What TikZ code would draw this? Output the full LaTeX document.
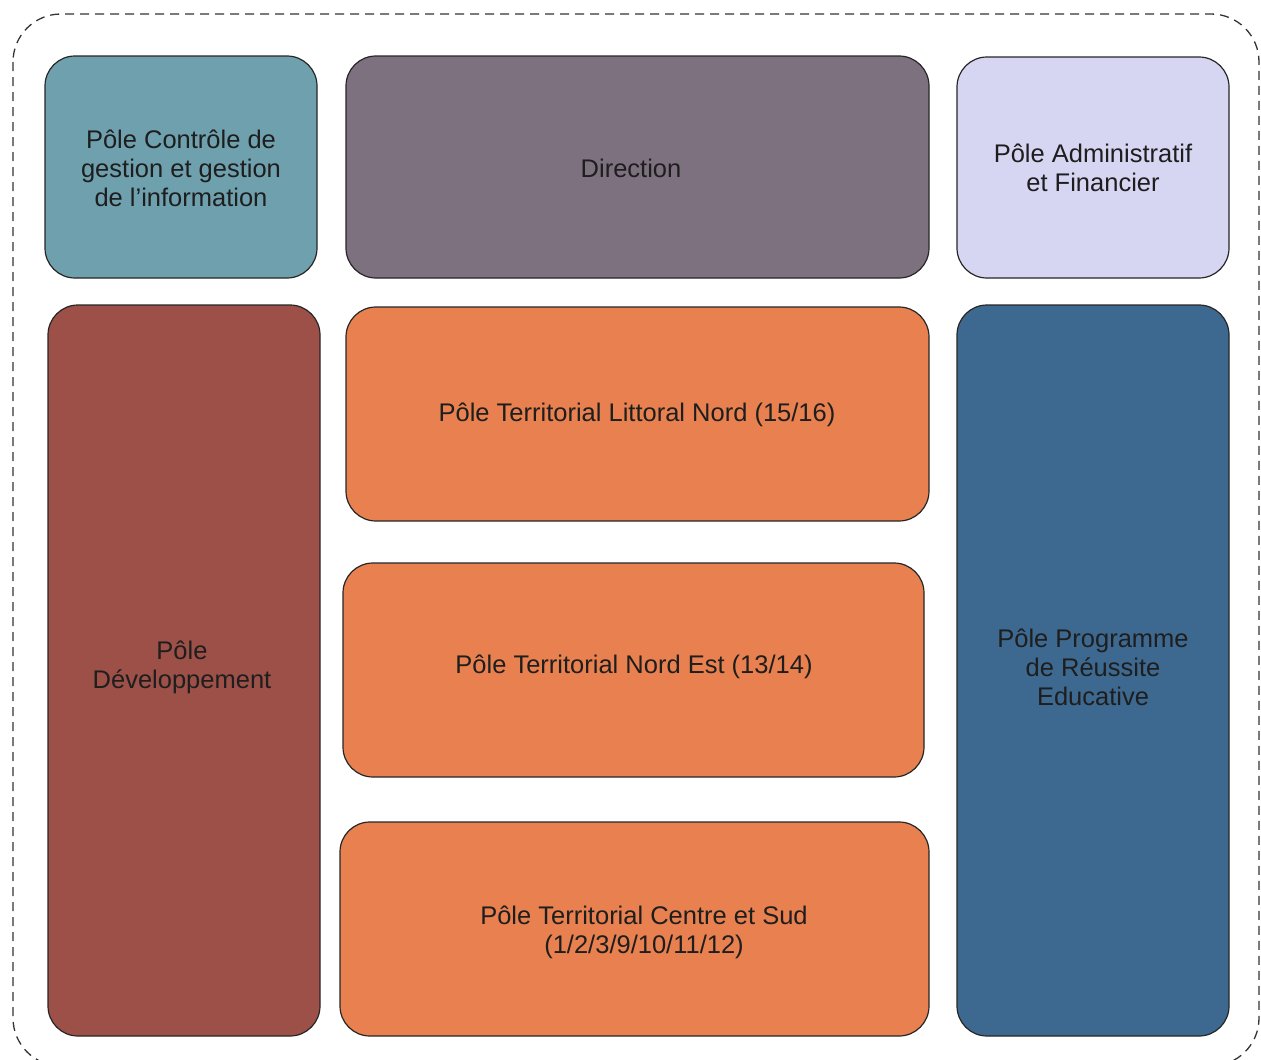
\documentclass[tikz,border=0pt]{standalone}
\usepackage{fontspec}
\setmainfont{Liberation Sans}
\definecolor{cctrl}{HTML}{6FA0AE}
\definecolor{cdir}{HTML}{7E717F}
\definecolor{cadm}{HTML}{D6D6F3}
\definecolor{cdev}{HTML}{9C5047}
\definecolor{cter}{HTML}{E8814F}
\definecolor{cprog}{HTML}{3D6990}
\definecolor{ctext}{HTML}{1E1E1E}
\begin{document}
\begin{tikzpicture}[x=1pt,y=-1pt,
  pole/.style={draw=black!85, line width=1.2pt, rounded corners=30pt},
  lbl/.style={font=\fontsize{25.5}{29}\selectfont, text=ctext, align=center}]
\useasboundingbox (0,0) rectangle (1261,1060);
\begin{scope}
\clip (0,0) rectangle (1261,1060);
\draw[line width=1.3pt, black!80, dash pattern=on 9pt off 6pt, rounded corners=48pt] (13,14) rectangle (1259,1066);
\end{scope}
% boxes
\draw[pole, fill=cctrl] (45,56) rectangle (317,278);
\node[lbl] (ctrl) at (181,168) {Pôle Contrôle de\\gestion et gestion\\de l’information};
\draw[pole, fill=cdir] (346,56) rectangle (929,278);
\node[lbl] (dir) at (631,168) {Direction};
\draw[pole, fill=cadm] (957,57) rectangle (1229,278);
\node[lbl] (adm) at (1093,168) {Pôle Administratif\\et Financier};
\draw[pole, fill=cdev] (48,305) rectangle (320,1036);
\node[lbl] (dev) at (182,667) {Pôle\\Développement};
\draw[pole, fill=cter] (346,307) rectangle (929,521);
\node[lbl] (lit) at (637,415) {Pôle Territorial Littoral Nord (15/16)};
\draw[pole, fill=cter] (343,563) rectangle (924,777);
\node[lbl] (ne) at (634,667) {Pôle Territorial Nord Est (13/14)};
\draw[pole, fill=cter] (340,822) rectangle (929,1036);
\node[lbl] (cs) at (644,932) {Pôle Territorial Centre et Sud\\(1/2/3/9/10/11/12)};
\draw[pole, fill=cprog] (957,305) rectangle (1229,1036);
\node[lbl] (prog) at (1093,667) {Pôle Programme\\de Réussite\\Educative};
\end{tikzpicture}
\end{document}
